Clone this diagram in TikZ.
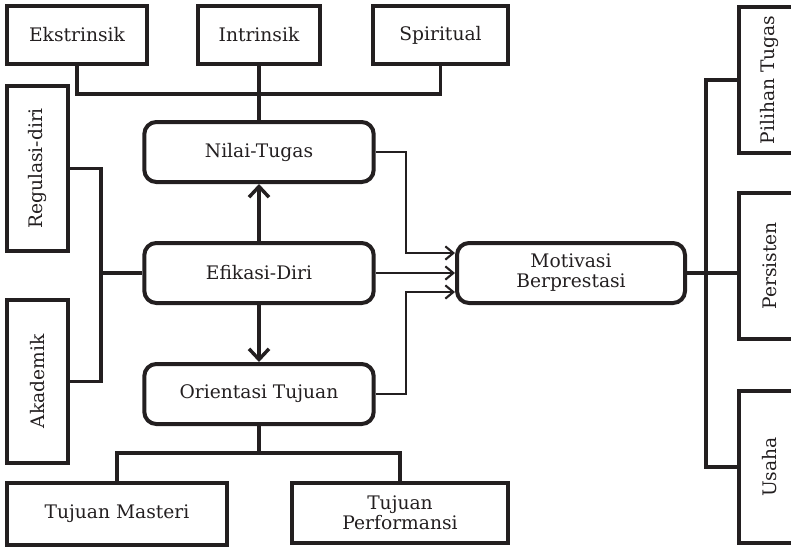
\documentclass[tikz,border=0pt]{standalone}
\usepackage{fontspec}
\setmainfont{DejaVu Serif}
\usepackage{xcolor}
\usetikzlibrary{positioning,arrows.meta}
\definecolor{ink}{HTML}{231F20}

\begin{document}
\begin{tikzpicture}[
  x=0.75pt, y=-0.75pt,
  font=\fontsize{14}{15}\selectfont,
  color=ink,
  box/.style={draw, line width=3pt, inner sep=1pt, align=center},
  rbox/.style={draw, line width=3pt, rounded corners=9pt, inner sep=1pt,
               align=center, minimum width=172pt, minimum height=45pt},
  link/.style={line width=2.6pt},
  bigarr/.style={line width=2.6pt, -{Straight Barb[length=8pt,width=15pt,line width=2.6pt]}},
  smallarr/.style={line width=1.6pt, -{Straight Barb[length=6pt,width=10pt,line width=1.6pt]}}
]
\useasboundingbox (0,0) rectangle (791,547);
\clip (0,0) rectangle (791,547);

% upper row
\node[box, minimum width=105pt, minimum height=43pt] (ekst) at (77,35) {Ekstrinsik};
\node[box, minimum width=91pt, minimum height=43pt] (intr) at (259,35) {Intrinsik};
\node[box, minimum width=101pt, minimum height=43pt] (spir) at (440.5,35) {Spiritual};

% middle column
\node[rbox] (nilai) at (259,152) {Nilai-Tugas};
\node[rbox] (efik) at (259,273) {Efikasi-Diri};
\node[rbox] (orient) at (259,394) {Orientasi Tujuan};
\node[rbox, minimum width=171pt] (motiv) at (571,273) {Motivasi\\Berprestasi};

% left side
\node[box, minimum width=46pt, minimum height=124pt] (regul) at (37.5,168.5) {\rotatebox{90}{Regulasi-diri}};
\node[box, minimum width=46pt, minimum height=122pt] (akad) at (37.5,381.5) {\rotatebox{90}{Akademik}};

% lower row
\node[box, minimum width=165pt, minimum height=46pt] (mast) at (117,514) {Tujuan Masteri};
\node[box, minimum width=162pt, minimum height=45pt] (perf) at (400,513) {Tujuan\\Performansi};

% right side
\node[box, minimum width=46pt, minimum height=110pt] (pilih) at (769.5,80) {\rotatebox{90}{Pilihan Tugas}};
\node[box, minimum width=46pt, minimum height=110pt] (pers) at (769.5,266) {\rotatebox{90}{Persisten}};
\node[box, minimum width=46pt, minimum height=114pt] (usaha) at (769.5,467) {\rotatebox{90}{Usaha}};

\coordinate (tbus) at (259,94);
\coordinate (lbus) at (101,273);
\coordinate (bbus) at (259,453);
\coordinate (rbus) at (706,273);
\coordinate (j1) at (406,253);
\coordinate (j2) at (406,292);

% branches
\draw[link] (ekst.south) |- (tbus) -| (spir.south);
\draw[link] (intr.south) -- (nilai.north);
\draw[link] (regul.east) -| (lbus) |- (akad.east);
\draw[link] (lbus) -- (efik.west);
\draw[link] (orient.south) -- (bbus);
\draw[link] (mast.north) |- (bbus) -| (perf.north);
\draw[link] (motiv.east) -- (motiv.east -| pers.west);
\draw[link] (pilih.west) -| (rbus) |- (usaha.west);

% arrows
\draw[bigarr] (efik.north) -- (nilai.south);
\draw[bigarr] (efik.south) -- (orient.north);
\draw[smallarr] (nilai.east) -| (j1) -- (j1 -| motiv.west);
\draw[smallarr] (efik.east) -- (motiv.west);
\draw[smallarr] (orient.east) -| (j2) -- (j2 -| motiv.west);
\end{tikzpicture}
\end{document}
